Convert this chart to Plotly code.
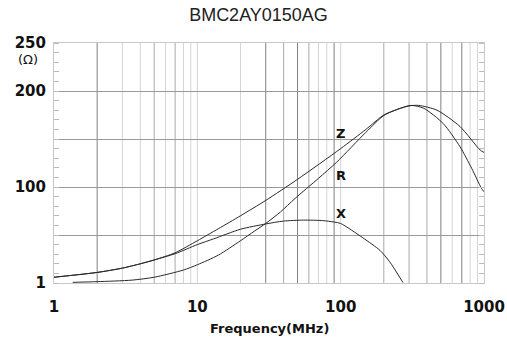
import plotly.graph_objects as go

# ---- data ----
Z_FREQ = [1, 2, 3, 4, 5, 7, 10, 14, 20, 30, 50, 100, 150, 200, 250, 300, 350, 470, 680, 940, 1000]
Z_VAL = [6, 11, 15.5, 20, 24, 31.5, 44, 56.5, 70, 86, 108, 140, 160, 175, 181, 184.5, 185, 180, 163, 138.5, 136]

R_FREQ = [1.35, 2, 3.5, 5, 8, 10, 14, 20, 25, 30, 38, 48, 70, 94, 150, 200, 250, 310, 380, 520, 680, 820, 960, 1000]
R_VAL = [0.7, 1.4, 3, 6, 13.5, 19, 29, 44, 54, 62, 74, 88, 109, 126, 157, 174.5, 181, 185, 182, 166, 142, 119.5, 98.6, 95]

X_FREQ = [1, 2, 3, 4, 5, 7, 10, 13, 20, 30, 40, 55, 75, 90, 100, 143, 188, 220, 272]
X_VAL = [6, 11, 15.5, 20, 24, 30.5, 40, 46, 56, 61.5, 64.5, 65.5, 65, 63.5, 62, 47, 34, 22, 0.5]

X_TICKS = [1, 10, 100, 1000]
X_TICK_TEXT = ["1", "10", "100", "1000"]
Y_TICKS = [0, 50, 100, 150, 200, 250]
Y_TICK_TEXT = ["1", "", "100", "", "200", "250"]

GRID_DARK = [2, 30, 50, 90, 500, 700]
GRID_MID = [5, 7, 40, 60, 200, 300, 400]
GRID_LIGHT = [3, 4, 6, 8, 9, 10, 20, 70, 80, 100, 600, 800, 900]

TITLE = "BMC2AY0150AG"

fig = go.Figure()
line_style = dict(color="#2a2a2a", width=1)
for fx, fy, nm in ((Z_FREQ, Z_VAL, "Z"), (R_FREQ, R_VAL, "R"), (X_FREQ, X_VAL, "X")):
    fig.add_trace(go.Scatter(x=fx, y=fy, mode="lines",
                             line=dict(**line_style, shape="spline", smoothing=0.7), name=nm))

shapes = []
for lst, col in ((GRID_LIGHT, "#d4d4d4"), (GRID_MID, "#aaaaaa"), (GRID_DARK, "#808080")):
    for f in lst:
        shapes.append(dict(type="line", xref="x", yref="paper", x0=f, x1=f, y0=0, y1=1,
                           line=dict(color=col, width=1), layer="below"))

bold = dict(family="DejaVu Sans", size=15, color="#111", weight="bold")
lab = dict(family="DejaVu Sans", size=13, color="#111", weight="bold")

annotations = [
    dict(text="Z", x=2, y=156, xref="x", yref="y", showarrow=False, font=lab),
    dict(text="R", x=2, y=112.5, xref="x", yref="y", showarrow=False, font=lab),
    dict(text="X", x=2, y=72, xref="x", yref="y", showarrow=False, font=lab),
    dict(text="(Ω)", x=-0.06, y=0.93, xref="paper", yref="paper", showarrow=False,
         font=dict(family="DejaVu Sans", size=13, color="#111"), xanchor="center", yanchor="middle"),
    dict(text="Frequency(MHz)", x=0.5, y=-0.1875, xref="paper", yref="paper", showarrow=False,
         font=lab, xanchor="center", yanchor="middle"),
]

fig.update_layout(
    width=507, height=338,
    margin=dict(l=54, r=23, t=43, b=55, autoexpand=False),
    paper_bgcolor="white", plot_bgcolor="white",
    showlegend=False,
    title=dict(text=TITLE, x=258.5 / 507, xanchor="center",
               y=1 - 14.5 / 338, yanchor="middle", yref="container",
               font=dict(family="Liberation Sans", size=18, color="#222")),
    shapes=shapes,
    annotations=annotations,
    xaxis=dict(type="log", range=[0, 3], tickvals=X_TICKS, ticktext=X_TICK_TEXT, automargin=False,
               showgrid=False, zeroline=False, showline=True, linecolor="#c8c8c8", mirror=True,
               ticks="", tickfont=bold, ticklabelstandoff=10),
    yaxis=dict(range=[0, 250], tickvals=Y_TICKS, ticktext=Y_TICK_TEXT, automargin=False,
               showgrid=True, gridcolor="#999999", gridwidth=1, zeroline=False,
               showline=True, linecolor="#c8c8c8", mirror="allticks",
               ticks="", tickfont=bold, ticklabelstandoff=4,
               minor=dict(dtick=10, ticks="inside", ticklen=5, tickcolor="#bbbbbb", showgrid=False)),
)

fig.write_html("out.html", config={"displayModeBar": False},
               post_script="document.body.style.margin='0';")
